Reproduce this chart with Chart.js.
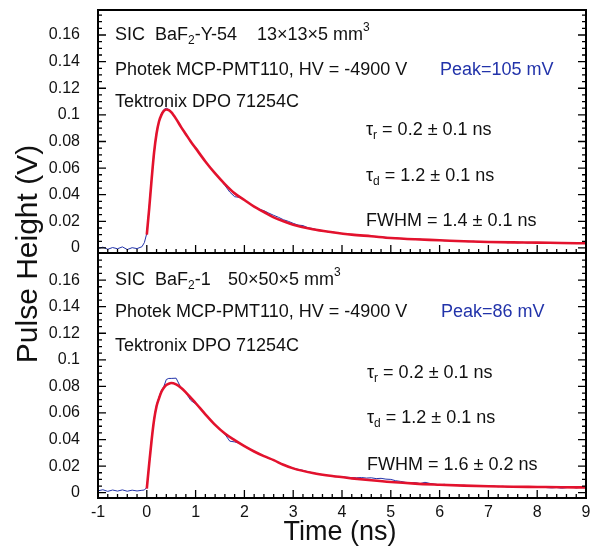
<!DOCTYPE html>
<html>
<head>
<meta charset="utf-8">
<title>Pulse Height x Time - BaF2</title>
<script src="https://cdn.jsdelivr.net/npm/chart.js"></script>
<style>
  body { margin: 0; background: #fff; }
  #wrap { position: relative; width: 592px; height: 554px; }
  #wrap canvas { position: absolute; left: 0; top: 0; }
</style>
</head>
<body>
<div id="wrap">
  <canvas id="chartTopo" width="592" height="554"></canvas>
  <canvas id="chartBase" width="592" height="554"></canvas>
</div>
<script>
  // tempos da medida (osciloscopio), ns
  var tempoMedida = [
    -1.0, -0.9, -0.8, -0.7, -0.6, -0.5, -0.4, -0.3, -0.2, -0.1,
    -0.05, 0.0, 0.05, 0.1, 0.15, 0.2, 0.25, 0.3, 0.35, 0.4, 0.45, 0.5,
    0.6, 0.7, 0.8, 0.9, 1.0, 1.1, 1.2, 1.3, 1.4, 1.5,
    1.6, 1.7, 1.8, 1.9, 2.0, 2.1, 2.2, 2.3, 2.4, 2.5,
    2.6, 2.7, 2.8, 2.9, 3.0, 3.1, 3.2, 3.3, 3.4, 3.5,
    3.6, 3.7, 3.8, 3.9, 4.0, 4.1, 4.2, 4.3, 4.4, 4.5,
    4.6, 4.7, 4.8, 4.9, 5.0, 5.1, 5.2, 5.3, 5.4, 5.5,
    5.6, 5.7, 5.8, 5.9, 6.0, 6.1, 6.2, 6.3, 6.4, 6.5,
    6.6, 6.7, 6.8, 6.9, 7.0, 7.1, 7.2, 7.3, 7.4, 7.5,
    7.6, 7.7, 7.8, 7.9, 8.0, 8.1, 8.2, 8.3, 8.4, 8.5,
    8.6, 8.7, 8.8, 8.9, 9.0
  ];
  // BaF2-Y-54 (painel de cima), V
  var medidaTopo = [
    -0.0004, 0.0006, -0.0010, 0.0003, -0.0006, 0.0008, -0.0012, 0.0002, -0.0005, 0.0009,
    0.0040, 0.0110, 0.0310, 0.0530, 0.0710, 0.0870, 0.0950, 0.1010, 0.1040, 0.1050, 0.1040, 0.1015,
    0.0970, 0.0905, 0.0860, 0.0795, 0.0755, 0.0698, 0.0652, 0.0600, 0.0562, 0.0515,
    0.0470, 0.0420, 0.0385, 0.0380, 0.0360, 0.0335, 0.0312, 0.0292, 0.0280, 0.0262,
    0.0245, 0.0230, 0.0212, 0.0200, 0.0185, 0.0172, 0.0168, 0.0152, 0.0146, 0.0136,
    0.0130, 0.0122, 0.0121, 0.0113, 0.0108, 0.0106, 0.0099, 0.0097, 0.0094, 0.0088,
    0.0090, 0.0083, 0.0081, 0.0080, 0.0074, 0.0076, 0.0070, 0.0068, 0.0070, 0.0064,
    0.0066, 0.0060, 0.0062, 0.0057, 0.0059, 0.0054, 0.0056, 0.0050, 0.0053, 0.0049,
    0.0047, 0.0050, 0.0044, 0.0046, 0.0043, 0.0046, 0.0041, 0.0044, 0.0039, 0.0043,
    0.0038, 0.0042, 0.0037, 0.0041, 0.0038, 0.0036, 0.0040, 0.0035, 0.0038, 0.0034,
    0.0037, 0.0033, 0.0036, 0.0034, 0.0035
  ];
  // BaF2-1 (painel de baixo), V
  var medidaBase = [
    0.0014, 0.0022, 0.0010, 0.0020, 0.0012, 0.0021, 0.0011, 0.0019, 0.0013, 0.0018,
    0.0020, 0.0040, 0.0220, 0.0410, 0.0560, 0.0660, 0.0720, 0.0770, 0.0800, 0.0852, 0.0860, 0.0860,
    0.0862, 0.0790, 0.0752, 0.0695, 0.0668, 0.0632, 0.0590, 0.0548, 0.0508, 0.0475,
    0.0440, 0.0388, 0.0382, 0.0372, 0.0350, 0.0330, 0.0312, 0.0292, 0.0276, 0.0258,
    0.0245, 0.0228, 0.0212, 0.0198, 0.0185, 0.0176, 0.0168, 0.0158, 0.0150, 0.0142,
    0.0136, 0.0130, 0.0127, 0.0122, 0.0120, 0.0116, 0.0114, 0.0112, 0.0114, 0.0110,
    0.0112, 0.0106, 0.0108, 0.0102, 0.0100, 0.0090, 0.0085, 0.0078, 0.0074, 0.0076,
    0.0068, 0.0078, 0.0070, 0.0064, 0.0060, 0.0063, 0.0057, 0.0059, 0.0053, 0.0056,
    0.0051, 0.0054, 0.0048, 0.0051, 0.0046, 0.0050, 0.0045, 0.0048, 0.0043, 0.0047,
    0.0042, 0.0046, 0.0041, 0.0044, 0.0040, 0.0043, 0.0038, 0.0036, 0.0039, 0.0034,
    0.0038, 0.0042, 0.0036, 0.0041, 0.0044
  ];

  // curva de ajuste (vermelha)
  var tempoAjuste = [
    0.0, 0.05, 0.1, 0.15, 0.2, 0.25, 0.3, 0.35, 0.4, 0.45, 0.5,
    0.6, 0.7, 0.8, 0.9, 1.0,
    1.2, 1.4, 1.6, 1.8, 2.0, 2.2, 2.4, 2.6, 2.8, 3.0,
    3.4, 3.8, 4.2, 4.6,
    5.0, 5.5, 6.0, 6.5, 7.0, 7.5, 8.0, 8.5, 9.0
  ];
  var ajusteTopo = [
    0.010, 0.030, 0.052, 0.072, 0.086, 0.095, 0.100, 0.103, 0.104, 0.1035, 0.102,
    0.097, 0.091, 0.0855, 0.080, 0.075,
    0.065, 0.056, 0.048, 0.041, 0.036, 0.031, 0.027, 0.023, 0.020, 0.0175,
    0.0140, 0.0118, 0.0100, 0.0088,
    0.0075, 0.0065, 0.0058, 0.0050, 0.0045, 0.0042, 0.0040, 0.0037, 0.0035
  ];
  var ajusteBase = [
    0.003, 0.022, 0.040, 0.055, 0.065, 0.071, 0.076, 0.079, 0.081, 0.082, 0.0825,
    0.0815, 0.079, 0.0755, 0.0715, 0.0675,
    0.059, 0.051, 0.0445, 0.0395, 0.035, 0.031, 0.0275, 0.0245, 0.021, 0.0183,
    0.0148, 0.0125, 0.0108, 0.0093,
    0.0080, 0.0068, 0.0060, 0.0053, 0.0048, 0.0045, 0.0043, 0.0041, 0.0040
  ];

  // eixos
  var ticksX = [-1, 0, 1, 2, 3, 4, 5, 6, 7, 8, 9];
  var labelsX = ["-1", "0", "1", "2", "3", "4", "5", "6", "7", "8", "9"];
  var ticksY = [0, 0.02, 0.04, 0.06, 0.08, 0.1, 0.12, 0.14, 0.16];
  var labelsY = ["0", "0.02", "0.04", "0.06", "0.08", "0.1", "0.12", "0.14", "0.16"];

  var FONTE = '"Liberation Sans", Arial, sans-serif';
  var AZUL = "#2233aa";
  var VERMELHO = "#e3122d";

  Chart.defaults.font.family = FONTE;
  Chart.defaults.color = "#000";

  function pontos(xs, ys) {
    return xs.map(function (x, i) { return { x: x, y: ys[i] }; });
  }

  // texto com sub/sobrescrito
  function textoRico(ctx, partes, y, tam) {
    var cx = 0;
    partes.forEach(function (p) {
      if (p.x !== undefined) cx = p.x;
      var f = tam, dy = 0;
      if (p.sub) { f = Math.round(tam * 0.66); dy = tam * 0.32; }
      if (p.sup) { f = Math.round(tam * 0.66); dy = -tam * 0.42; }
      ctx.font = f + "px " + FONTE;
      ctx.fillStyle = p.cor || "#111";
      ctx.textBaseline = "middle";
      ctx.textAlign = "left";
      ctx.fillText(p.t, cx, y + dy);
      cx += ctx.measureText(p.t).width;
    });
  }

  // moldura com ticks para dentro + anotacoes
  var moldura = {
    id: "moldura",
    afterDatasetsDraw: function (chart, args, opts) {
      var ctx = chart.ctx, a = chart.chartArea;
      var xs = chart.scales.x, ys = chart.scales.y;
      ctx.save();
      ctx.strokeStyle = "#000";
      ctx.lineWidth = 1.3;
      ctx.beginPath();
      for (var i = 0; i <= 50; i++) {
        var vx = -1 + i * 0.2;
        var px = xs.getPixelForValue(vx);
        var lx = i % 5 == 0 ? 8 : 4;
        ctx.moveTo(px, a.bottom);
        ctx.lineTo(px, a.bottom - lx);
      }
      for (var j = 0; j <= 36; j++) {
        var vy = j * 0.005;
        var py = ys.getPixelForValue(vy);
        if (py < a.top + 1) continue;
        var ly = j % 4 == 0 ? 8 : 4;
        ctx.moveTo(a.left, py);
        ctx.lineTo(a.left + ly, py);
        ctx.moveTo(a.right, py);
        ctx.lineTo(a.right - ly, py);
      }
      ctx.stroke();
      ctx.lineWidth = 2;
      ctx.strokeRect(a.left, a.top, a.right - a.left, a.bottom - a.top);

      (opts.linhas || []).forEach(function (l) {
        textoRico(ctx, l.partes, l.y, 18);
      });

      ctx.fillStyle = "#111";
      ctx.textAlign = "center";
      ctx.textBaseline = "middle";
      if (opts.tituloY) {
        ctx.font = "30px " + FONTE;
        ctx.save();
        ctx.translate(29, 254);
        ctx.rotate(-Math.PI / 2);
        ctx.fillText(opts.tituloY, 0, 0);
        ctx.restore();
      }
      if (opts.tituloX) {
        ctx.font = "27px " + FONTE;
        ctx.fillText(opts.tituloX, 340, 533);
      }
      ctx.restore();
    }
  };

  function criarGrafico(idCanvas, medida, ajuste, limY, padding, mostrarX, linhas, titulos) {
    var config = {
      type: "line",
      data: {
        datasets: [
          {
            label: "Ajuste",
            data: pontos(tempoAjuste, ajuste),
            borderColor: VERMELHO,
            borderWidth: 2.6,
            pointRadius: 0,
            fill: false,
            cubicInterpolationMode: "monotone"
          },
          {
            label: "Medida",
            data: pontos(tempoMedida, medida),
            borderColor: AZUL,
            borderWidth: 1,
            pointRadius: 0,
            fill: false,
            tension: 0
          }
        ]
      },
      options: {
        responsive: false,
        animation: false,
        events: [],
        layout: { padding: padding },
        plugins: {
          legend: { display: false },
          tooltip: { enabled: false },
          moldura: { linhas: linhas, tituloX: titulos.x, tituloY: titulos.y }
        },
        scales: {
          x: {
            type: "linear",
            min: -1,
            max: 9,
            display: mostrarX,
            grid: { display: false, drawTicks: false },
            border: { display: false },
            afterBuildTicks: function (scale) {
              scale.ticks = ticksX.map(function (v) { return { value: v }; });
            },
            afterFit: function (scale) {
              scale.height = mostrarX ? 56 : 0;
              scale.paddingLeft = 0;
              scale.paddingRight = 0;
            },
            ticks: {
              autoSkip: false,
              maxRotation: 0,
              padding: 5,
              font: { size: 16 },
              color: "#111",
              callback: function (v, i) { return labelsX[i]; }
            }
          },
          y: {
            type: "linear",
            min: limY[0],
            max: limY[1],
            grid: { display: false, drawTicks: false },
            border: { display: false },
            afterBuildTicks: function (scale) {
              scale.ticks = ticksY.map(function (v) { return { value: v }; });
            },
            afterFit: function (scale) {
              scale.width = 98;
              scale.paddingTop = 0;
              scale.paddingBottom = 0;
            },
            ticks: {
              autoSkip: false,
              padding: 18,
              font: { size: 16 },
              color: "#111",
              callback: function (v, i) { return labelsY[i]; }
            }
          }
        }
      },
      plugins: [moldura]
    };
    return new Chart(document.getElementById(idCanvas), config);
  }

  var linhasTopo = [
    { y: 35, partes: [{ t: "SIC", x: 115 }, { t: "BaF", x: 155 }, { t: "2", sub: true }, { t: "-Y-54" }, { t: "13×13×5 mm", x: 257 }, { t: "3", sup: true }] },
    { y: 70, partes: [{ t: "Photek MCP-PMT110, HV = -4900 V", x: 115 }, { t: "Peak=105 mV", x: 440, cor: AZUL }] },
    { y: 102, partes: [{ t: "Tektronix DPO 71254C", x: 115 }] },
    { y: 130, partes: [{ t: "τ", x: 366 }, { t: "r", sub: true }, { t: " = 0.2 ± 0.1 ns" }] },
    { y: 176, partes: [{ t: "τ", x: 366 }, { t: "d", sub: true }, { t: " = 1.2 ± 0.1 ns" }] },
    { y: 221, partes: [{ t: "FWHM = 1.4 ± 0.1 ns", x: 366 }] }
  ];
  var linhasBase = [
    { y: 280, partes: [{ t: "SIC", x: 115 }, { t: "BaF", x: 155 }, { t: "2", sub: true }, { t: "-1" }, { t: "50×50×5 mm", x: 228 }, { t: "3", sup: true }] },
    { y: 312, partes: [{ t: "Photek MCP-PMT110, HV = -4900 V", x: 115 }, { t: "Peak=86 mV", x: 441, cor: AZUL }] },
    { y: 346, partes: [{ t: "Tektronix DPO 71254C", x: 115 }] },
    { y: 373, partes: [{ t: "τ", x: 367 }, { t: "r", sub: true }, { t: " = 0.2 ± 0.1 ns" }] },
    { y: 418, partes: [{ t: "τ", x: 367 }, { t: "d", sub: true }, { t: " = 1.2 ± 0.1 ns" }] },
    { y: 465, partes: [{ t: "FWHM = 1.6 ± 0.2 ns", x: 367 }] }
  ];

  var graficoTopo = criarGrafico("chartTopo", medidaTopo, ajusteTopo, [-0.0038, 0.1788],
    { top: 10, right: 6, bottom: 301, left: 0 }, false, linhasTopo, { y: "Pulse Height (V)" });
  var graficoBase = criarGrafico("chartBase", medidaBase, ajusteBase, [-0.004, 0.1804],
    { top: 253, right: 6, bottom: 0, left: 0 }, true, linhasBase, { x: "Time (ns)" });
  console.log("graficos prontos");
</script>
</body>
</html>
